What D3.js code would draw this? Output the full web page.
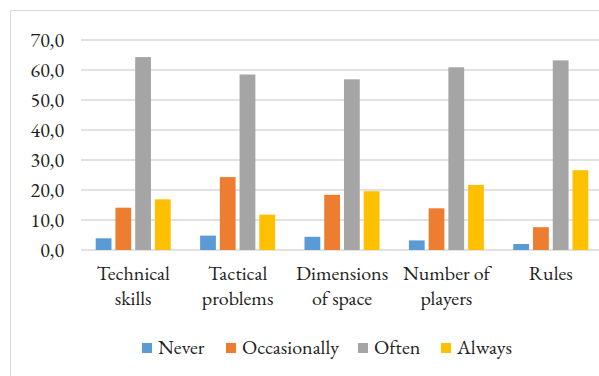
<!DOCTYPE html>
<html>
<head>
<meta charset="utf-8">
<script src="https://cdn.jsdelivr.net/npm/d3@7"></script>
<style>
  body { margin: 0; background: #fff; overflow: hidden; }
  svg { display: block; }
</style>
</head>
<body>
<div id="viz"></div>
<script>
var categories = [["Technical", "skills"], ["Tactical", "problems"], ["Dimensions", "of space"], ["Number of", "players"], ["Rules"]];
var seriesNames = ["Never", "Occasionally", "Often", "Always"];
var seriesColors = ["#5b9bd5", "#ed7d31", "#a5a5a5", "#ffc000"];
var never = [3.9, 4.8, 4.4, 3.2, 2.0];
var occasionally = [14.1, 24.3, 18.4, 13.9, 7.6];
var often = [64.3, 58.5, 56.9, 60.9, 63.2];
var always = [16.9, 11.8, 19.6, 21.7, 26.6];
var yTicks = [0, 10, 20, 30, 40, 50, 60, 70];

var width = 599, height = 376;
var margin = { top: 40, left: 81, right: -4, bottom: 126 };
var serif = "'EB Garamond', 'Liberation Serif', serif";
var fontSize = "20px";

var svg = d3.select("#viz").append("svg")
  .attr("width", width)
  .attr("height", height);

// chart frame: only left and top edges are visible
svg.append("path")
  .attr("d", "M10.5," + height + "V10.5H" + width)
  .attr("fill", "none")
  .attr("stroke", "#d9d9d9");

var g = svg.append("g")
  .attr("transform", "translate(" + margin.left + "," + margin.top + ")");

var w = width - margin.left - margin.right;
var h = height - margin.top - margin.bottom;

var keys = categories.map(function(d){ return d.join(" "); });
var allSeries = [never, occasionally, often, always];

var x0 = d3.scaleBand().domain(keys).range([0, w]).paddingInner(0).paddingOuter(0);
var x1 = d3.scaleBand().domain(seriesNames).range([0, 75]).paddingInner(0.2);
var y = d3.scaleLinear().domain([0, 70]).range([h, 0]);

// gridlines
g.append("g").selectAll("line")
  .data(yTicks).enter().append("line")
  .attr("x1", 0).attr("x2", w)
  .attr("y1", function(d){ return y(d); })
  .attr("y2", function(d){ return y(d); })
  .attr("stroke", "#d9d9d9")
  .attr("stroke-width", 1.5);

// y labels
var yAxis = d3.axisLeft(y).tickValues(yTicks).tickSize(0).tickPadding(17)
  .tickFormat(function(d){ return d3.format(".1f")(d).replace(".", ","); });
var ya = g.append("g").call(yAxis);
ya.select(".domain").remove();
ya.selectAll("text")
  .attr("fill", "#222")
  .style("font-family", serif)
  .style("font-size", fontSize);

// bars
var data = [];
keys.forEach(function(k, i){
  seriesNames.forEach(function(s, j){
    data.push({ cat: k, series: s, value: allSeries[j][i], color: seriesColors[j] });
  });
});

g.selectAll(".bar").data(data).enter().append("rect")
  .attr("class", "bar")
  .attr("x", function(d){ return x0(d.cat) + (x0.bandwidth() - 75) / 2 + x1(d.series); })
  .attr("width", x1.bandwidth())
  .attr("y", function(d){ return y(d.value); })
  .attr("height", function(d){ return h - y(d.value); })
  .attr("fill", function(d){ return d.color; });

// category labels
var cl = g.append("g").selectAll("text")
  .data(categories).enter().append("text")
  .attr("text-anchor", "middle")
  .attr("fill", "#222")
  .attr("x", function(d, i){ return x0(keys[i]) + x0.bandwidth() / 2; })
  .attr("y", h + 30)
  .style("font-family", serif)
  .style("font-size", fontSize);
cl.selectAll("tspan")
  .data(function(d){ return d; }).enter().append("tspan")
  .attr("x", function(){ return d3.select(this.parentNode).attr("x"); })
  .attr("dy", function(d, i){ return i === 0 ? 0 : 25; })
  .text(function(d){ return d; });

// legend
var legendX = [142, 226, 358, 441];
var legend = svg.append("g").selectAll("g")
  .data(seriesNames).enter().append("g")
  .attr("transform", function(d, i){ return "translate(" + legendX[i] + ",343)"; });
legend.append("rect")
  .attr("width", 10).attr("height", 10)
  .attr("fill", function(d, i){ return seriesColors[i]; });
legend.append("text")
  .attr("x", 16).attr("y", 11)
  .attr("fill", "#222")
  .style("font-family", serif)
  .style("font-size", fontSize)
  .text(function(d){ return d; });
</script>
</body>
</html>
